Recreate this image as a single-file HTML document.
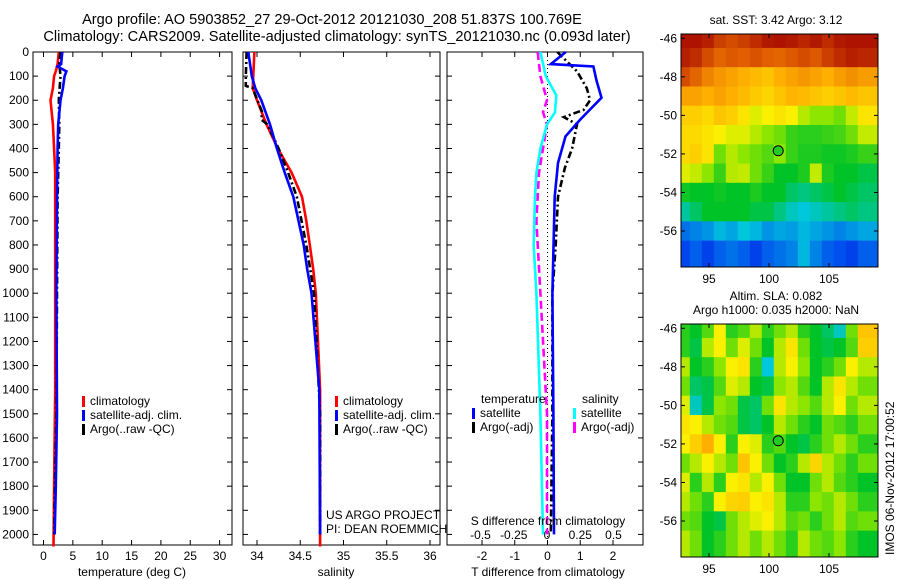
<!DOCTYPE html>
<html><head><meta charset="utf-8">
<style>
body{margin:0;background:#fff;}
svg{display:block;font-family:"Liberation Sans",sans-serif;}
</style></head>
<body>
<svg id="fig" width="900" height="580" viewBox="0 0 900 580">
<rect width="900" height="580" fill="#fff"/>
<text x="332" y="24" font-size="14.6" text-anchor="middle">Argo profile: AO 5903852_27 29-Oct-2012 20121030_208 51.837S 100.769E</text>
<text x="337" y="41" font-size="14.6" text-anchor="middle">Climatology: CARS2009. Satellite-adjusted climatology: synTS_20121030.nc (0.093d later)</text>
<g id="g1"></g>
<g id="g2"></g>
<g id="g3"></g>
<g id="m1"></g>
<g id="m2"></g>
<text x="776" y="24" font-size="12" text-anchor="middle">sat. SST: 3.42 Argo: 3.12</text>
<text x="776" y="300" font-size="12" text-anchor="middle">Altim. SLA: 0.082</text>
<text x="776" y="314" font-size="12" text-anchor="middle">Argo h1000: 0.035 h2000: NaN</text>
<text x="0" y="0" font-size="12" transform="translate(894,555) rotate(-90)">IMOS 06-Nov-2012 17:00:52</text>
<text x="326" y="519" font-size="12">US ARGO PROJECT</text>
<text x="326" y="533" font-size="12">PI: DEAN ROEMMICH</text>
</svg>
<script>
const NS="http://www.w3.org/2000/svg";
// ---- profile data ----
const depthTicks=[0,100,200,300,400,500,600,700,800,900,1000,1100,1200,1300,1400,1500,1600,1700,1800,1900,2000];
const tempTicks=[0,5,10,15,20,25,30];
const salTicks=[34,34.5,35,35.5,36];
const salTickLabels=["34","34.5","35","35.5","36"];
const tdiffTicks=[-2,-1,0,1,2];
const sdiffTicks=[-0.5,-0.25,0,0.25,0.5];
const sdiffTickLabels=["-0.5","-0.25","0","0.25","0.5"];

const climTDepth=[0,50,80,100,150,200,250,300,400,500,1000,1400,1800,2050];
const climTVal=[2.6,2.4,2.1,1.8,1.6,1.2,1.4,1.6,1.8,2.0,2.0,2.0,1.8,1.7];
const satTDepth=[0,50,60,80,100,150,200,300,400,600,1000,1500,1800,2000];
const satTVal=[3.2,3.0,2.4,3.9,3.6,3.3,2.9,2.5,2.4,2.3,2.2,2.3,2.1,1.9];
const argoTDepth=[0,50,100,200,300,400,600,1000,1500,2000];
const argoTVal=[2.9,2.7,2.9,2.6,2.7,2.6,2.4,2.3,2.2,1.8];

const climSDepth=[0,150,200,300,400,500,600,700,800,900,1000,1400,2050];
const climSVal=[33.97,33.95,34.0,34.11,34.24,34.40,34.52,34.57,34.61,34.65,34.68,34.73,34.73];
const satSDepth=[0,100,150,200,300,400,500,600,700,800,900,1000,1400,2000];
const satSVal=[33.90,33.94,33.98,34.05,34.15,34.23,34.32,34.42,34.48,34.54,34.58,34.63,34.72,34.73];
const argoSDepth=[0,100,140,150,250,280,300,400,500,600,800,1000,1500,2000];
const argoSVal=[33.88,33.87,33.87,33.95,34.06,34.05,34.12,34.25,34.36,34.46,34.57,34.66,34.73,34.73];

const satDTDepth=[0,50,60,120,190,280,350,460,600,1000,1500,2000];
const satDTVal=[0.56,0.1,1.4,1.5,1.65,1.0,0.55,0.32,0.22,0.15,0.18,0.2];
const argoDTDepth=[0,80,150,200,240,270,300,400,480,600,800,1000,1500,2000];
const argoDTVal=[0.3,0.9,1.2,1.3,1.1,0.5,0.9,0.75,0.53,0.32,0.25,0.15,0.15,0.1];
const satDSDepth=[0,100,180,250,300,400,500,600,800,1000,1500,2000];
const satDSVal=[-0.05,-0.01,0.07,0.06,0,-0.05,-0.08,-0.09,-0.1,-0.08,-0.05,-0.03];
const argoDSDepth=[0,50,100,200,250,300,400,500,700,1000,1500,2000];
const argoDSVal=[-0.07,-0.06,-0.05,0.0,-0.03,0,-0.03,-0.06,-0.08,-0.05,0.0,0.0];

// ---- map data (colour index 0..1, rows north->south, cols west->east) ----
const mapLon=[93,94,95,96,97,98,99,100,101,102,103,104,105,106,107,108];
const mapLat=[-46,-47,-48,-49,-50,-51,-52,-53,-54,-55,-56,-57];
const sstRow0=[.97,.97,.95,.9,.88,.9,.93,.96,.97,.96,.94,.96,.93,.96,.97,.97];
const sstRow1=[.95,.93,.88,.84,.86,.85,.87,.85,.84,.86,.88,.86,.9,.93,.95,.94];
const sstRow2=[.88,.84,.79,.76,.74,.72,.7,.68,.72,.74,.76,.74,.72,.75,.77,.75];
const sstRow3=[.74,.74,.72,.74,.72,.7,.67,.65,.68,.71,.7,.68,.66,.68,.7,.68];
const sstRow4=[.66,.66,.64,.68,.66,.62,.58,.6,.62,.6,.55,.52,.52,.5,.56,.62];
const sstRow5=[.64,.64,.62,.6,.58,.58,.55,.52,.5,.46,.45,.45,.46,.47,.5,.56];
const sstRow6=[.64,.66,.62,.5,.55,.52,.5,.48,.52,.46,.44,.44,.43,.43,.44,.46];
const sstRow7=[.58,.56,.52,.46,.55,.56,.5,.46,.42,.42,.44,.56,.44,.42,.42,.4];
const sstRow8=[.43,.42,.42,.43,.42,.42,.44,.42,.42,.38,.36,.38,.4,.42,.4,.38];
const sstRow9=[.34,.38,.42,.42,.42,.42,.4,.4,.36,.32,.3,.32,.34,.36,.38,.36];
const sstRow10=[.2,.22,.24,.28,.26,.3,.28,.24,.26,.25,.28,.26,.24,.22,.24,.26];
const sstRow11=[.15,.18,.14,.18,.2,.18,.14,.18,.2,.22,.28,.22,.18,.16,.14,.18];
const slaRow0=[.45,.42,.48,.6,.45,.48,.55,.45,.5,.55,.45,.42,.38,.32,.5,.68];
const slaRow1=[.45,.4,.55,.6,.5,.58,.5,.42,.55,.62,.5,.42,.4,.42,.48,.66];
const slaRow2=[.55,.42,.45,.52,.6,.62,.45,.3,.55,.6,.52,.42,.45,.5,.6,.55];
const slaRow3=[.5,.38,.4,.48,.58,.55,.42,.4,.52,.55,.48,.42,.55,.62,.55,.5];
const slaRow4=[.58,.32,.4,.52,.5,.4,.38,.5,.62,.55,.52,.48,.55,.6,.5,.55];
const slaRow5=[.62,.6,.55,.5,.48,.4,.38,.42,.55,.5,.45,.42,.5,.48,.45,.5];
const slaRow6=[.6,.66,.72,.6,.45,.6,.58,.45,.48,.42,.4,.45,.5,.55,.5,.45];
const slaRow7=[.5,.55,.6,.55,.5,.68,.6,.5,.42,.45,.55,.65,.55,.5,.45,.5];
const slaRow8=[.58,.45,.55,.45,.6,.62,.55,.6,.5,.42,.42,.5,.55,.48,.45,.42];
const slaRow9=[.55,.5,.45,.6,.65,.66,.6,.62,.55,.45,.45,.52,.5,.55,.5,.45];
const slaRow10=[.5,.48,.42,.4,.5,.55,.58,.6,.55,.48,.5,.45,.5,.55,.48,.5];
const slaRow11=[.55,.5,.42,.45,.5,.55,.5,.55,.5,.45,.55,.5,.48,.52,.45,.42];
const sstRows=[sstRow0,sstRow1,sstRow2,sstRow3,sstRow4,sstRow5,sstRow6,sstRow7,sstRow8,sstRow9,sstRow10,sstRow11];
const slaRows=[slaRow0,slaRow1,slaRow2,slaRow3,slaRow4,slaRow5,slaRow6,slaRow7,slaRow8,slaRow9,slaRow10,slaRow11];
const lonTicks=[95,100,105];
const latTicks=[-46,-48,-50,-52,-54,-56];
const latTickLabels=["-46","-48","-50","-52","-54","-56"];
const argoLon=100.769, argoLat=-51.837;

function el(tag,attrs,parent){const e=document.createElementNS(NS,tag);for(const k in attrs)e.setAttribute(k,attrs[k]);parent.appendChild(e);return e;}
const TOP=52,BOT=545;
const yD=d=>TOP+d*0.2412;

function axesBox(g,x0,x1,xTicks,xLab,xfn,showY,name){
  const r=el('rect',{x:x0,y:TOP,width:x1-x0,height:BOT-TOP,fill:'none',stroke:'#000','stroke-width':1},g);
  
  
  xTicks.forEach((v,i)=>{const x=xfn(v);
    el('line',{x1:x,x2:x,y1:BOT,y2:BOT-5,stroke:'#000'},g);
    el('line',{x1:x,x2:x,y1:TOP,y2:TOP+5,stroke:'#000'},g);
    const t=el('text',{x:x,y:BOT+15,'font-size':12,'text-anchor':'middle'},g);t.textContent=xLab[i];
    
    });
  depthTicks.forEach(d=>{const y=yD(d);
    el('line',{x1:x0,x2:x0+5,y1:y,y2:y,stroke:'#000'},g);
    el('line',{x1:x1,x2:x1-5,y1:y,y2:y,stroke:'#000'},g);
    if(showY){const t=el('text',{x:x0-4,y:y+4,'font-size':12,'text-anchor':'end'},g);t.textContent=d;
      
      }});
}
function line(g,xs,ds,xfn,color,dash,name){
  const pts=xs.map((v,i)=>xfn(v).toFixed(1)+','+yD(ds[i]).toFixed(1)).join(' ');
  const p=el('polyline',{points:pts,fill:'none',stroke:color,'stroke-width':2.6,'stroke-dasharray':dash||'none'},g);
  
  
}
function legend(g,x,y,items,name){
  items.forEach((it,i)=>{
    el('rect',{x:x,y:y+i*14-9,width:3,height:11,fill:it[1]},g);
    const t=el('text',{x:x+8,y:y+i*14,'font-size':12},g);t.textContent=it[0];
    
    
  });
}
// Panel 1
const g1=document.getElementById('g1');
const xT=v=>43.5+5.87*v;
axesBox(g1,33,232,tempTicks,tempTicks.map(String),xT,true,'temperature');
line(g1,climTVal,climTDepth,xT,'#f00',null,'climatology-temperature-line');
line(g1,argoTVal,argoTDepth,xT,'#000','7,3,2,3','argo-temperature-line');
line(g1,satTVal,satTDepth,xT,'#00f',null,'satellite-temperature-line');
legend(g1,82,405,[['climatology','#f00'],['satellite-adj. clim.','#00f'],['Argo(..raw -QC)','#000']],'temperature-legend');
let t=el('text',{x:132,y:576,'font-size':12,'text-anchor':'middle'},g1);t.textContent='temperature (deg C)';


// Panel 2
const g2=document.getElementById('g2');
const xS=v=>257+86.5*(v-34);
axesBox(g2,243,440,salTicks,salTickLabels,xS,false,'salinity');
line(g2,climSVal,climSDepth,xS,'#f00',null,'climatology-salinity-line');
line(g2,argoSVal,argoSDepth,xS,'#000','7,3,2,3','argo-salinity-line');
line(g2,satSVal,satSDepth,xS,'#00f',null,'satellite-salinity-line');
legend(g2,335,405,[['climatology','#f00'],['satellite-adj. clim.','#00f'],['Argo(..raw -QC)','#000']],'salinity-legend');
t=el('text',{x:336,y:576,'font-size':12,'text-anchor':'middle'},g2);t.textContent='salinity';


// Panel 3
const g3=document.getElementById('g3');
const xDT=v=>547.5+32.75*v, xDS=v=>547+133*v;
axesBox(g3,447,643,tdiffTicks,tdiffTicks.map(String),xDT,false,'difference');
sdiffTicks.forEach((v,i)=>{const tt=el('text',{x:xDS(v),y:539,'font-size':12,'text-anchor':'middle'},g3);tt.textContent=sdiffTickLabels[i];
  
  });
el('line',{x1:xDT(0),x2:xDT(0),y1:TOP,y2:BOT,stroke:'#000','stroke-dasharray':'1,3'},g3);
line(g3,argoDTVal,argoDTDepth,xDT,'#000','7,3,2,3','argo-t-difference-line');
line(g3,satDTVal,satDTDepth,xDT,'#00f',null,'satellite-t-difference-line');
line(g3,argoDSVal,argoDSDepth,xDS,'#f0f','8,4','argo-s-difference-line');
line(g3,satDSVal,satDSDepth,xDS,'#0ff',null,'satellite-s-difference-line');
t=el('text',{x:481,y:403,'font-size':12},g3);t.textContent='temperature';

t=el('text',{x:582,y:403,'font-size':12},g3);t.textContent='salinity';

legend(g3,472,417,[['satellite','#00f'],['Argo(-adj)','#000']],'t-diff-legend');
legend(g3,573,417,[['satellite','#0ff'],['Argo(-adj)','#f0f']],'s-diff-legend');
t=el('text',{x:548,y:525,'font-size':12,'text-anchor':'middle'},g3);t.textContent='S difference from climatology';

t=el('text',{x:548,y:576,'font-size':12,'text-anchor':'middle'},g3);t.textContent='T difference from climatology';


// Maps
const stops=[[0,[0,0,140]],[.15,[0,70,240]],[.3,[0,200,220]],[.42,[0,195,40]],[.52,[140,230,0]],[.6,[250,240,0]],[.72,[255,175,0]],[.85,[225,95,0]],[1,[160,0,0]]];
function cmap(v){for(let i=1;i<stops.length;i++){if(v<=stops[i][0]){const a=stops[i-1],b=stops[i],f=(v-a[0])/(b[0]-a[0]);return 'rgb('+a[1].map((c,k)=>Math.round(c+(b[1][k]-c)*f)).join(',')+')';}}return 'rgb(160,0,0)';}
function drawMap(id,top,rows,name){
  const g=document.getElementById(id);
  const L=681,R=878,B=top+233;
  const xL=lon=>769+12*(lon-100), yL=lat=>top+4.3+19.27*(-46-lat);
  rows.forEach((row,r)=>row.forEach((v,c)=>{
    const lon=mapLon[c],lat=mapLat[r];
    let x0=Math.max(L,xL(lon-0.6)),x1=Math.min(R,xL(lon+0.6)),y0=Math.max(top,yL(lat+0.5)),y1=Math.min(B,yL(lat-0.5));
    if(c===0)x0=L; if(c===row.length-1)x1=R; if(r===0)y0=top; if(r===rows.length-1)y1=B;
    const cell=el('rect',{x:x0,y:y0,width:x1-x0+0.5,height:y1-y0+0.5,fill:cmap(v)},g);
    
    
  }));
  el('rect',{x:L,y:top,width:R-L,height:B-top,fill:'none',stroke:'#000'},g);
  lonTicks.forEach(lo=>{const x=xL(lo);el('line',{x1:x,x2:x,y1:B,y2:B-4,stroke:'#000'},g);el('line',{x1:x,x2:x,y1:top,y2:top+4,stroke:'#000'},g);
    const tt=el('text',{x:x,y:B+16,'font-size':12,'text-anchor':'middle'},g);tt.textContent=lo;
    });
  latTicks.forEach((la,i)=>{const y=yL(la);el('line',{x1:L,x2:L+4,y1:y,y2:y,stroke:'#000'},g);el('line',{x1:R,x2:R-4,y1:y,y2:y,stroke:'#000'},g);
    const tt=el('text',{x:L-4,y:y+4,'font-size':12,'text-anchor':'end'},g);tt.textContent=latTickLabels[i];
    });
  const m=el('circle',{cx:xL(argoLon),cy:yL(argoLat),r:5,fill:'#2c2',stroke:'#000','stroke-width':1},g);
  
  
}
drawMap('m1',34,sstRows,'sst-map');
drawMap('m2',324,slaRows,'sla-map');
</script>
</body></html>
